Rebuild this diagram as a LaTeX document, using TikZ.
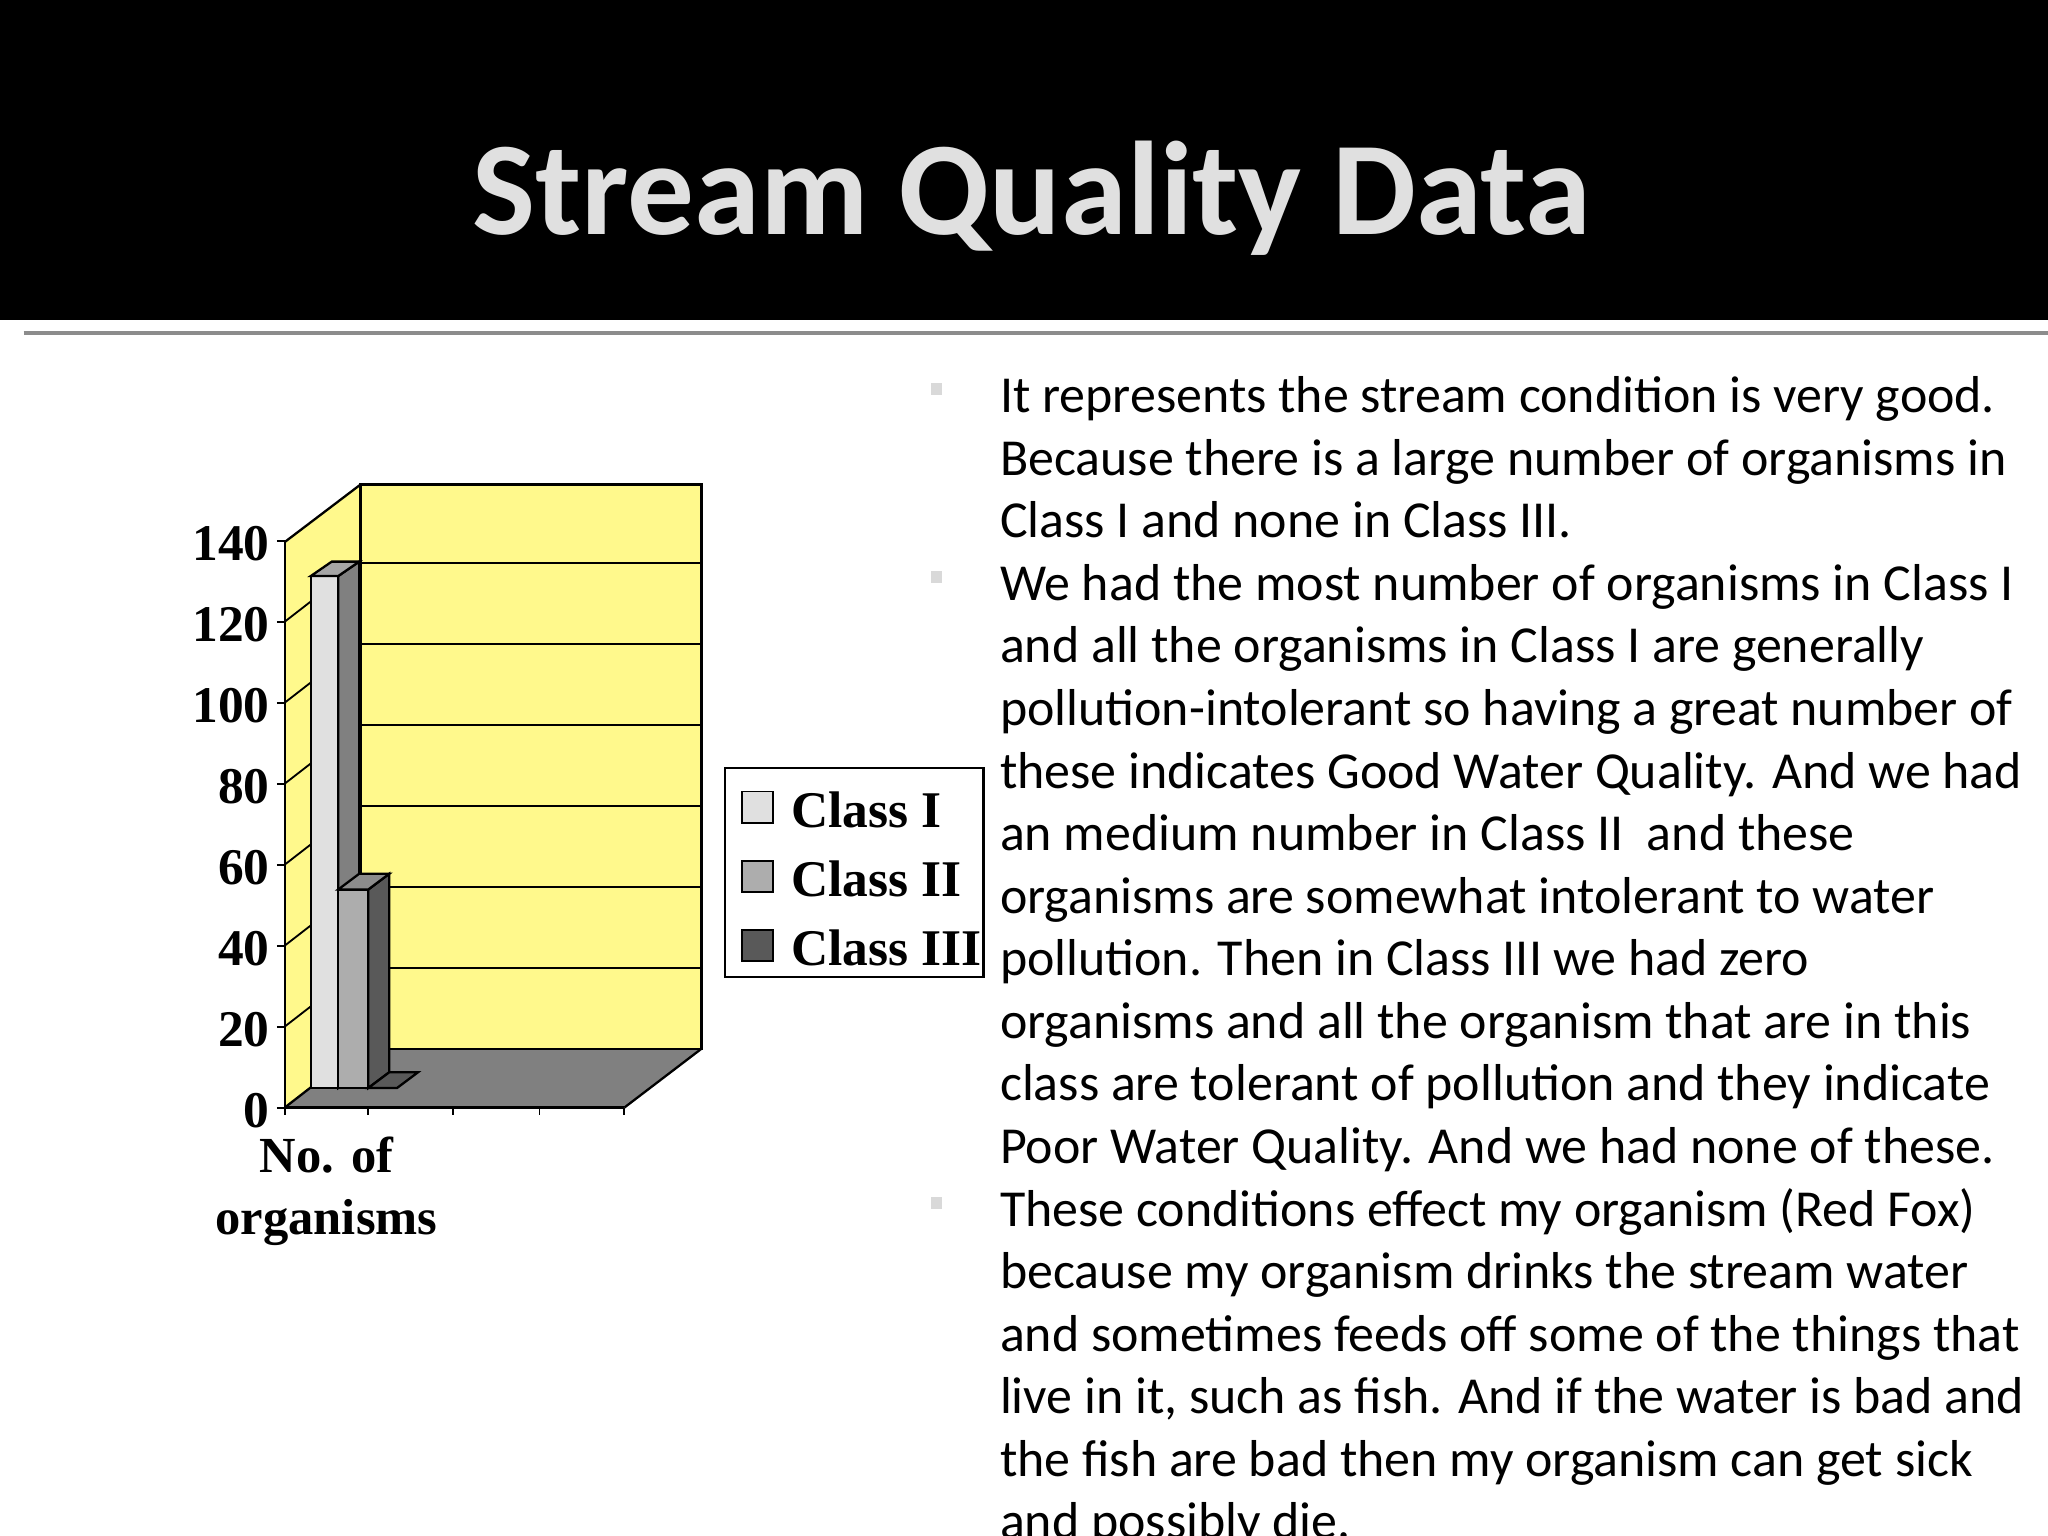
\documentclass[tikz,border=0pt]{standalone}
\usepackage{fontspec}
\setmainfont{Carlito}
\newfontfamily\tms{Liberation Serif}
\begin{document}
\begin{tikzpicture}[x=0.01cm,y=-0.01cm,
  body/.style={anchor=base west,inner sep=0pt,font=\fontsize{11.3}{13}\selectfont},
  ylab/.style={anchor=east,inner sep=0pt,font=\tms\bfseries\fontsize{11.2}{13}\selectfont},
  leg/.style={anchor=west,inner sep=0pt,font=\tms\bfseries\fontsize{11.2}{13}\selectfont},
  bul/.style={fill=black!15,minimum size=0.09cm,inner sep=0pt}]
\useasboundingbox (0,0) rectangle (1568,1176);
\clip (0,0) rectangle (1568,1176);
\fill[black] (0,0) rectangle (1568,245);
\node[text=black!12,font=\bfseries\fontsize{29}{32}\selectfont] (title) at (790,152) {Stream Quality Data};
\draw[black!45,line width=0.7pt] (18,255) -- (1568,255);
% chart walls
\fill[yellow!45] (276,371) rectangle (537,803);
\fill[yellow!45] (218,415) -- (276,371) -- (276,803) -- (218,848) -- cycle;
\fill[black!50] (218,848) -- (276,803) -- (537,803) -- (478,848) -- cycle;
\foreach \k in {1,...,6}{
  \draw[black,line width=0.4pt] (276,803-62*\k) -- (537,803-62*\k);
  \draw[black,line width=0.4pt] (218,848-62*\k) -- (276,803-62*\k);
}
\draw[line width=0.5pt] (276,371) rectangle (537,803);
\draw[line width=0.5pt] (218,415) -- (276,371);
\draw[line width=0.5pt] (218,848) -- (276,803) (537,803) -- (478,848);
\draw[line width=0.5pt] (218,415) -- (218,848) -- (478,848);
\foreach \x in {218,282,347,413,478} \draw (\x,848) -- (\x,854);
\foreach \k in {0,...,7}{
  \draw (212,848-62*\k) -- (218,848-62*\k);
  \pgfmathtruncatemacro\v{20*\k}
  \node[ylab] (yl\k) at (207,850-62*\k) {\v};
}
% bars
\filldraw[fill=black!12,line width=0.5pt] (238,441) rectangle (259,833);
\filldraw[fill=black!50,line width=0.5pt] (259,441) -- (275,430) -- (275,822) -- (259,833) -- cycle;
\filldraw[fill=black!35,line width=0.5pt] (238,441) -- (254,430) -- (275,430) -- (259,441) -- cycle;
\filldraw[fill=black!32,line width=0.5pt] (259,681) rectangle (282,833);
\filldraw[fill=black!65,line width=0.5pt] (282,681) -- (298,669) -- (298,821) -- (282,833) -- cycle;
\filldraw[fill=black!45,line width=0.5pt] (259,681) -- (275,669) -- (298,669) -- (282,681) -- cycle;
\filldraw[fill=black!65,line width=0.5pt] (282,833) -- (298,821) -- (320,821) -- (304,833) -- cycle;
\node[font=\tms\bfseries\fontsize{11}{14}\selectfont,align=center] (xl) at (250,912) {No. of\\[-0.5pt] organisms};
% legend
\draw[line width=0.5pt] (555,588) rectangle (753,748);
\filldraw[fill=black!12] (568,606) rectangle (592,630);
\filldraw[fill=black!32] (568,659) rectangle (592,683);
\filldraw[fill=black!65] (568,712) rectangle (592,736);
\node[leg] (l1) at (605,620) {Class I};
\node[leg] (l2) at (605,673) {Class II};
\node[leg] (l3) at (605,726) {Class III};
% bullets
\node[bul] (b1) at (717,298) {};
\node[bul] (b2) at (717,442) {};
\node[bul] (b3) at (717,921) {};
\foreach \t [count=\i] in {
It represents the stream condition is very good.,
Because there is a large number of organisms in,
Class I and none in Class III.,
We had the most number of organisms in Class I,
and all the organisms in Class I are generally,
pollution-intolerant so having a great number of,
these indicates Good Water Quality. And we had,
an medium number in Class II\ \ and these,
organisms are somewhat intolerant to water,
pollution. Then in Class III we had zero,
organisms and all the organism that are in this,
class are tolerant of pollution and they indicate,
Poor Water Quality. And we had none of these.,
These conditions effect my organism (Red Fox),
because my organism drinks the stream water,
and sometimes feeds off some of the things that,
{live in it, such as fish. And if the water is bad and},
the fish are bad then my organism can get sick,
and possibly die.}
  \node[body] (t\i) at (765,316+47.9*\i-47.9) {\t};
\end{tikzpicture}
\end{document}
